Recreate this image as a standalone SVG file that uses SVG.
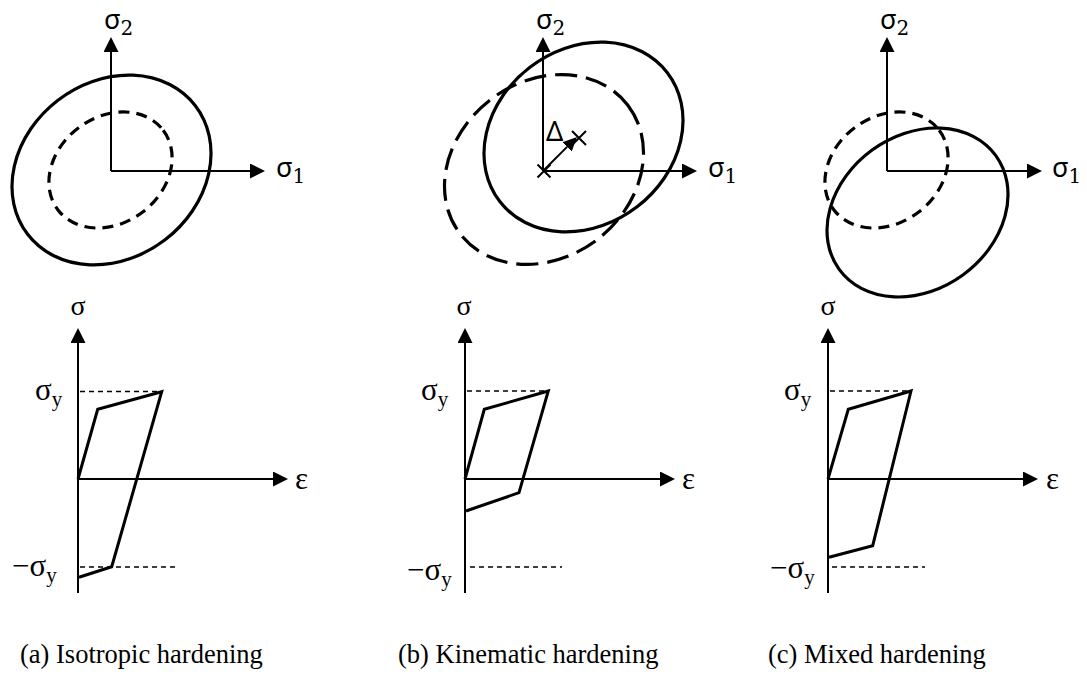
<svg xmlns="http://www.w3.org/2000/svg" width="1087" height="690" viewBox="0 0 1087 690">
<style>
.ax{stroke:#000;stroke-width:2;fill:none}
.sol{stroke:#000;stroke-width:3.2;fill:none}
.dsh{stroke:#000;stroke-width:3.2;fill:none;stroke-dasharray:11 7}
.dshl{stroke:#000;stroke-width:3.2;fill:none;stroke-dasharray:22 9}
.crv{stroke:#000;stroke-width:3;fill:none;stroke-linejoin:miter}
.ref{stroke:#000;stroke-width:1.5;fill:none;stroke-dasharray:5 4}
.sg{font-family:"Noto Sans","DejaVu Sans",sans-serif;font-size:27px;fill:#000}
.sub{font-family:"DejaVu Serif","Liberation Serif",serif;font-size:20px}
.tm{font-family:"Liberation Serif","Times New Roman",serif;fill:#000}
.cap{font-family:"Liberation Serif","Times New Roman",serif;font-size:26.5px;fill:#000}
</style>
<defs>
<marker id="ah" markerWidth="15" markerHeight="15" refX="0" refY="7.5" orient="auto" markerUnits="userSpaceOnUse"><path d="M0,0 L15,7.5 L0,15 z" fill="#000"/></marker>
<marker id="ahs" markerWidth="14" markerHeight="13" refX="0" refY="6.5" orient="auto" markerUnits="userSpaceOnUse"><path d="M0,0 L14,6.5 L0,13 z" fill="#000"/></marker>
</defs>

<g id="connectors">
<line class="ax" x1="111" y1="171" x2="111" y2="52" marker-end="url(#ah)"/>
<line class="ax" x1="111" y1="171" x2="250" y2="171" marker-end="url(#ah)"/>
<line class="ax" x1="543" y1="171" x2="543" y2="52" marker-end="url(#ah)"/>
<line class="ax" x1="543" y1="171" x2="682" y2="171" marker-end="url(#ah)"/>
<line class="ax" x1="887" y1="171" x2="887" y2="52" marker-end="url(#ah)"/>
<line class="ax" x1="887" y1="171" x2="1027" y2="171" marker-end="url(#ah)"/>
<line class="ax" x1="78" y1="593" x2="78" y2="343" marker-end="url(#ah)"/>
<line class="ax" x1="78" y1="479" x2="273" y2="479" marker-end="url(#ah)"/>
<line class="ax" x1="465" y1="593" x2="465" y2="343" marker-end="url(#ah)"/>
<line class="ax" x1="465" y1="479" x2="660" y2="479" marker-end="url(#ah)"/>
<line class="ax" x1="828" y1="593" x2="828" y2="343" marker-end="url(#ah)"/>
<line class="ax" x1="828" y1="479" x2="1023" y2="479" marker-end="url(#ah)"/>
<line class="ax" x1="543" y1="171" x2="567.1" y2="146.9" marker-end="url(#ahs)"/>
</g>

<g id="panel-a-top">
<ellipse class="sol" cx="111.5" cy="170" rx="105.7" ry="88" transform="rotate(-37.5 111.5 170)"/>
<ellipse class="dsh" cx="110.5" cy="170" rx="66" ry="53" transform="rotate(-37 110.5 170)"/>
<text class="sg" x="104" y="29">σ<tspan class="sub" dy="6">2</tspan></text>
<text class="sg" x="276" y="177">σ<tspan class="sub" dy="6">1</tspan></text>
</g>

<g id="panel-b-top">
<ellipse class="sol" cx="583.5" cy="137" rx="105.7" ry="88" transform="rotate(-37.5 583.5 137)"/>
<ellipse class="dshl" cx="544" cy="169.5" rx="105.7" ry="88" transform="rotate(-37.5 544 169.5)"/>
<path class="ax" d="M537.5,164.5 L550.5,177.5 M537.5,177.5 L550.5,164.5 M572,131 L586,145 M572,145 L586,131"/>
<text class="sg" x="546" y="141" font-size="27">Δ</text>
<text class="sg" x="536" y="29">σ<tspan class="sub" dy="6">2</tspan></text>
<text class="sg" x="708" y="177">σ<tspan class="sub" dy="6">1</tspan></text>
</g>

<g id="panel-c-top">
<ellipse class="sol" cx="917.5" cy="212.5" rx="96.8" ry="77.2" transform="rotate(-36 917.5 212.5)"/>
<ellipse class="dsh" cx="886.5" cy="170" rx="66" ry="53" transform="rotate(-37 886.5 170)"/>
<text class="sg" x="880" y="29">σ<tspan class="sub" dy="6">2</tspan></text>
<text class="sg" x="1052" y="177">σ<tspan class="sub" dy="6">1</tspan></text>
</g>

<g id="panel-a-bottom">
<line class="ref" x1="80" y1="391.5" x2="161" y2="391.5"/>
<line class="ref" x1="80" y1="567" x2="175" y2="567"/>
<polyline class="crv" points="78,479 97.7,409.3 161.7,391.7 111.7,566.7 79,577.3"/>
<text class="tm" x="78" y="315" font-size="28" text-anchor="middle">σ</text>
<text class="tm" x="295" y="489" font-size="31">ε</text>
<text class="tm" x="35" y="400" font-size="31">σ<tspan font-size="21" dy="6">y</tspan></text>
<text class="tm" x="12" y="576" font-size="31">−σ<tspan font-size="21" dy="6">y</tspan></text>
</g>

<g id="panel-b-bottom">
<line class="ref" x1="467" y1="391" x2="548" y2="391"/>
<line class="ref" x1="470" y1="567" x2="562" y2="567"/>
<polyline class="crv" points="465,479 484.3,409.3 548.3,391 519,492.7 466,511"/>
<text class="tm" x="464" y="315" font-size="28" text-anchor="middle">σ</text>
<text class="tm" x="682" y="489" font-size="31">ε</text>
<text class="tm" x="421" y="400" font-size="31">σ<tspan font-size="21" dy="6">y</tspan></text>
<text class="tm" x="407" y="580" font-size="31">−σ<tspan font-size="21" dy="6">y</tspan></text>
</g>

<g id="panel-c-bottom">
<line class="ref" x1="830" y1="391" x2="911" y2="391"/>
<line class="ref" x1="832" y1="567" x2="925" y2="567"/>
<polyline class="crv" points="828,479 848.3,409.3 911,391 872.7,545.7 829,557.3"/>
<text class="tm" x="828" y="315" font-size="28" text-anchor="middle">σ</text>
<text class="tm" x="1046" y="489" font-size="31">ε</text>
<text class="tm" x="784" y="400" font-size="31">σ<tspan font-size="21" dy="6">y</tspan></text>
<text class="tm" x="770" y="578" font-size="31">−σ<tspan font-size="21" dy="6">y</tspan></text>
</g>

<g id="captions">
<text class="cap" x="20" y="663">(a) Isotropic hardening</text>
<text class="cap" x="398" y="663">(b) Kinematic hardening</text>
<text class="cap" x="768" y="663">(c) Mixed hardening</text>
</g>
</svg>
